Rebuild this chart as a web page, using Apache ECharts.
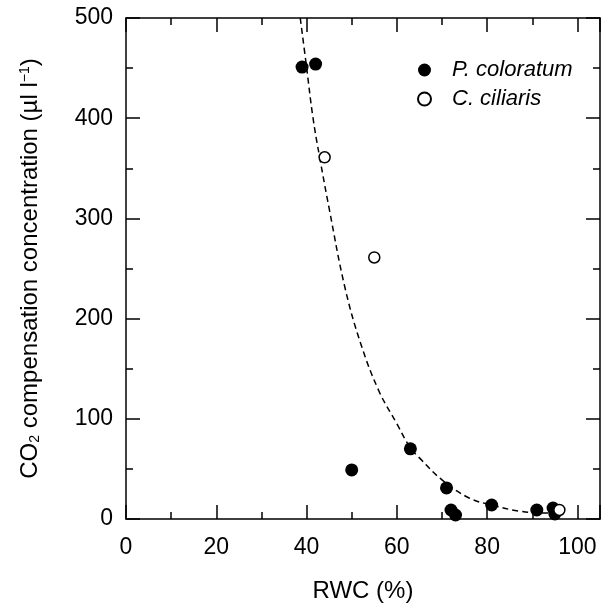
<!DOCTYPE html>
<html>
<head>
<meta charset="utf-8">
<script src="https://cdn.jsdelivr.net/npm/echarts@6/dist/echarts.min.js"></script>
<style>html,body{margin:0;padding:0;background:#fff}#c{width:605px;height:608px}</style>
</head>
<body>
<div id="c"></div>
<script>
const pColName = 'P. coloratum';
const cCilName = 'C. ciliaris';
const pColX = [39, 42, 50, 63, 71, 72, 73, 81, 91, 94.6, 95];
const pColY = [451, 454, 49, 70, 31, 9, 4, 14, 9, 11, 5];
const cCilX = [44, 55, 96];
const cCilY = [361, 261, 9];
const fitX = [38.6, 40, 41.4, 42.9, 45, 48.5, 52, 56, 60, 63, 65, 70, 76, 81, 87, 93, 95];
const fitY = [500, 451, 401, 361, 310, 231, 175, 128, 95, 71, 61, 39, 21, 14, 8, 6, 6];
const xTicks = [0, 20, 40, 60, 80, 100];
const yTicks = [0, 100, 200, 300, 400, 500];

const zip = (a, b) => a.map((v, i) => [v, b[i]]);
const FONT = 'Liberation Sans, Arial, Helvetica, sans-serif';
const axisLine = {show: true, onZero: false, lineStyle: {color: '#000', width: 1.5}};
const chart = echarts.init(document.getElementById('c'));
chart.setOption({
  animation: false,
  backgroundColor: '#fff',
  grid: {left: 126, right: 5, top: 18, bottom: 89, containLabel: false},
  legend: {
    orient: 'vertical', left: 412, top: 54, itemWidth: 13, itemHeight: 13, itemGap: 7,
    data: [{name: pColName, icon: 'circle'}, {name: cCilName, icon: 'circle'}],
    textStyle: {fontFamily: FONT, fontSize: 22, fontStyle: 'italic', color: '#000', lineHeight: 20, padding: [0, 0, 0, 16]}
  },
  xAxis: [{
    type: 'value', min: 0, max: 105, interval: 20, position: 'bottom',
    name: 'RWC (%)', nameLocation: 'middle', nameGap: 60,
    nameTextStyle: {fontFamily: FONT, fontSize: 24, color: '#000'},
    axisLine, splitLine: {show: false},
    axisTick: {inside: true, length: 14, lineStyle: {color: '#000', width: 1.5}},
    minorTick: {show: true, splitNumber: 2, length: 7, lineStyle: {color: '#000', width: 1.5}},
    axisLabel: {fontFamily: FONT, fontSize: 23, color: '#000', margin: 17,
      formatter: v => xTicks.includes(v) ? String(v) : ''}
  }, {
    type: 'value', min: 0, max: 105, interval: 20, position: 'top',
    axisLine, splitLine: {show: false}, axisLabel: {show: false},
    axisTick: {inside: true, length: 14, lineStyle: {color: '#000', width: 1.5}},
    minorTick: {show: true, splitNumber: 2, length: 7, lineStyle: {color: '#000', width: 1.5}}
  }],
  yAxis: [{
    type: 'value', min: 0, max: 500, interval: 100, position: 'left',
    name: '{t|CO}{s|2}{t| compensation concentration (µl l}{p|−1}{t|)}',
    nameLocation: 'middle', nameGap: 84, nameRotate: 90,
    nameTextStyle: {fontFamily: FONT, fontSize: 24, color: '#000',
      rich: {
        t: {fontFamily: FONT, fontSize: 24, color: '#000'},
        s: {fontFamily: FONT, fontSize: 14, color: '#000', verticalAlign: 'bottom', padding: [10, 0, 0, 0]},
        p: {fontFamily: FONT, fontSize: 14, color: '#000', verticalAlign: 'top', padding: [0, 0, 10, 0]}
      }},
    axisLine, splitLine: {show: false},
    axisTick: {inside: true, length: 14, lineStyle: {color: '#000', width: 1.5}},
    minorTick: {show: true, splitNumber: 2, length: 7, lineStyle: {color: '#000', width: 1.5}},
    axisLabel: {fontFamily: FONT, fontSize: 23, color: '#000', margin: 13,
      formatter: v => yTicks.includes(v) ? String(v) : ''}
  }, {
    type: 'value', min: 0, max: 500, interval: 100, position: 'right',
    axisLine, splitLine: {show: false}, axisLabel: {show: false},
    axisTick: {inside: true, length: 14, lineStyle: {color: '#000', width: 1.5}},
    minorTick: {show: true, splitNumber: 2, length: 7, lineStyle: {color: '#000', width: 1.5}}
  }],
  series: [{
    name: 'fit', type: 'line', data: zip(fitX, fitY), smooth: 0.4, showSymbol: false, symbol: 'none',
    lineStyle: {color: '#000', width: 1.5, type: [6, 4]}, z: 1, silent: true
  }, {
    name: pColName, type: 'scatter', data: zip(pColX, pColY), symbol: 'circle', symbolSize: 13,
    itemStyle: {color: '#000', opacity: 1}, z: 3
  }, {
    name: cCilName, type: 'scatter', data: zip(cCilX, cCilY), symbol: 'circle', symbolSize: 11,
    itemStyle: {color: '#fff', borderColor: '#000', borderWidth: 1.5, opacity: 1}, z: 4
  }]
});
</script>
</body>
</html>
